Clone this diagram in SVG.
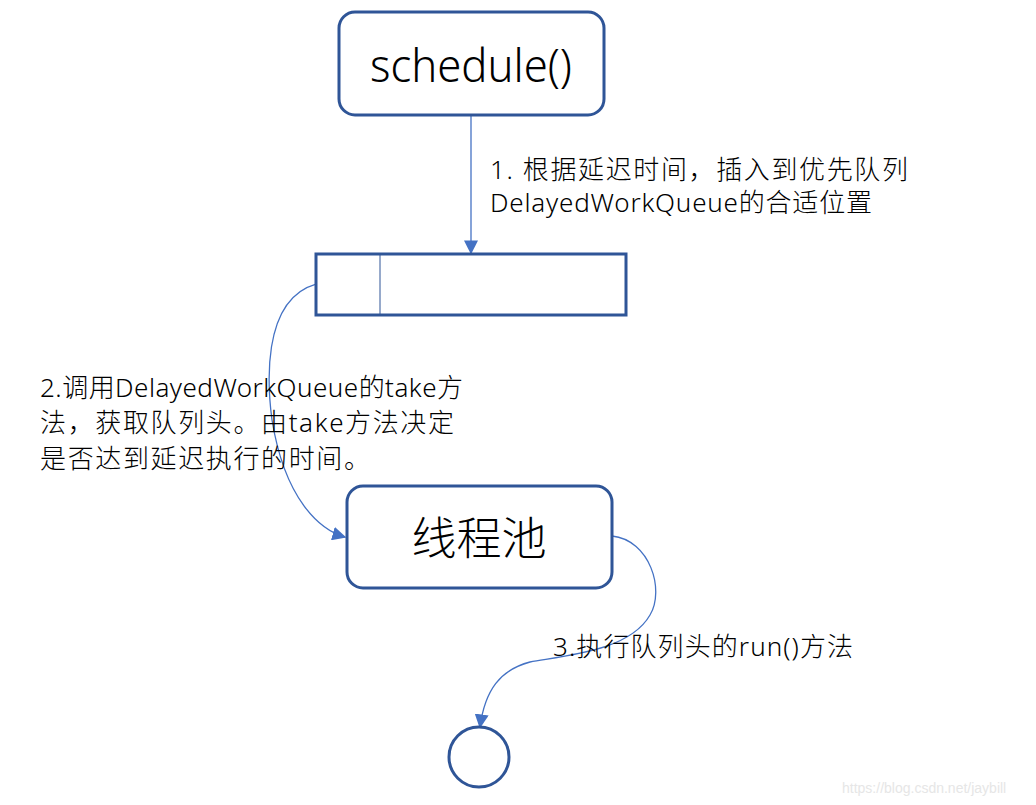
<svg xmlns="http://www.w3.org/2000/svg" width="1036" height="805" viewBox="0 0 1036 805">
<style>
.box{fill:#fff;stroke:#2F5597;stroke-width:3}
.conn{fill:none;stroke:#4472C4;stroke-width:1.3}
.t{font-family:"Noto Sans","Noto Sans CJK SC",sans-serif;fill:#000;font-weight:300}
.big{font-size:45px;text-anchor:middle}
.lbl{font-size:26px}
.wm{font-family:"Liberation Sans",sans-serif;font-size:14px;fill:#e6e6e6}
</style>
<defs>
<marker id="arr" viewBox="0 0 10 10" refX="9" refY="5" markerWidth="14" markerHeight="14" markerUnits="userSpaceOnUse" orient="auto">
<path d="M0,0 L10,5 L0,10 z" fill="#4472C4"/>
</marker>
</defs>
<rect width="1036" height="805" fill="#fff"/>
<g id="connectors">
<path class="conn" d="M471,116 L471,253" marker-end="url(#arr)"/>
<path class="conn" d="M316,284 C260,300 268,390 272,420 C285,500 320,530 345,537" marker-end="url(#arr)"/>
<path class="conn" d="M612,536 C650,540 665,590 650,615 C630,650 570,655 530,662 C500,670 485,690 480,727" marker-end="url(#arr)"/>
</g>
<g id="schedule">
<rect class="box" x="339" y="12" width="265" height="103" rx="16"/>
<text class="t big" x="471" y="82" textLength="202" lengthAdjust="spacingAndGlyphs">schedule()</text>
</g>
<g id="queue">
<rect class="box" x="316" y="254" width="310" height="61"/>
<line x1="380" y1="255" x2="380" y2="314" stroke="#2F5597" stroke-width="1"/>
</g>
<g id="threadpool">
<rect class="box" x="347" y="486" width="265" height="102" rx="16"/>
<text class="t big" x="479" y="555" textLength="135">线程池</text>
</g>
<g id="end">
<circle class="box" cx="479" cy="757" r="30"/>
</g>
<g id="labels">
<text class="t lbl" x="490" y="179" textLength="418">1. 根据延迟时间，插入到优先队列</text>
<text class="t lbl" x="490" y="212" textLength="382">DelayedWorkQueue的合适位置</text>
<text class="t lbl" x="40" y="397" textLength="423">2.调用DelayedWorkQueue的take方</text>
<text class="t lbl" x="40" y="432" textLength="414">法，获取队列头。由take方法决定</text>
<text class="t lbl" x="40" y="468" textLength="330">是否达到延迟执行的时间。</text>
<text class="t lbl" x="553" y="656" textLength="300">3.执行队列头的run()方法</text>
</g>
<text class="wm" x="842" y="793">https://blog.csdn.net/jaybill</text>
</svg>
